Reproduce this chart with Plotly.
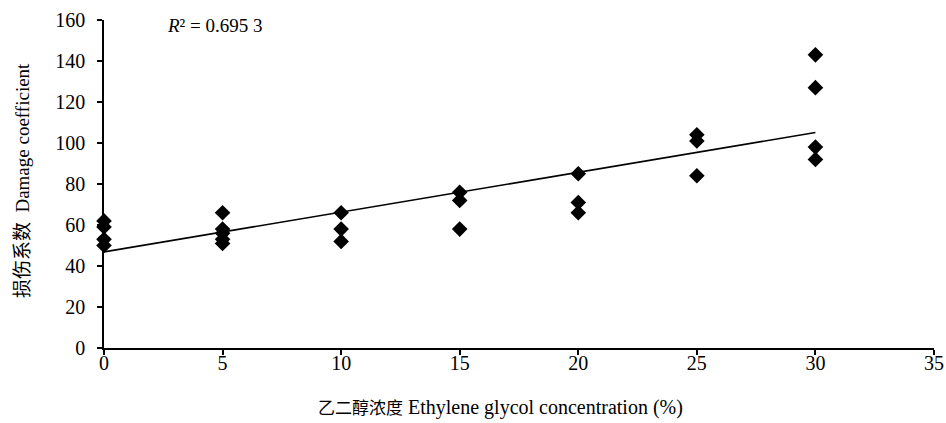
import numpy as np
import plotly.graph_objects as go

# Data
conc = [0, 0, 0, 0,
        5, 5, 5, 5, 5,
        10, 10, 10,
        15, 15, 15,
        20, 20, 20,
        25, 25, 25,
        30, 30, 30, 30]
damage = [62, 59, 53, 50,
          66, 58, 56, 53, 51,
          66, 58, 52,
          76, 72, 58,
          85, 71, 66,
          104, 101, 84,
          143, 127, 98, 92]

x_ticks = [0, 5, 10, 15, 20, 25, 30, 35]
y_ticks = [0, 20, 40, 60, 80, 100, 120, 140, 160]
r2_text = "<i>R</i>² = 0.695 3"
x_title = "<span style='font-size:17px'>乙二醇浓度</span> Ethylene glycol concentration (%)"
y_title = "损伤系数  Damage coefficient"

slope, intercept = np.polyfit(conc, damage, 1)
fit_x = [min(conc), max(conc)]
fit_y = [intercept + slope * v for v in fit_x]

FONT = "Liberation Serif, Noto Sans CJK SC, serif"

fig = go.Figure()
fig.add_trace(go.Scatter(x=fit_x, y=fit_y, mode="lines",
                         line=dict(color="black", width=1.6), showlegend=False,
                         cliponaxis=False))
fig.add_trace(go.Scatter(x=conc, y=damage, mode="markers",
                         marker=dict(symbol="diamond", size=12, color="black"),
                         showlegend=False, cliponaxis=False))

fig.add_annotation(x=0.0735, y=0.982, xref="paper", yref="paper", xanchor="left",
                   yanchor="middle", text=r2_text, showarrow=False,
                   font=dict(family=FONT, size=19, color="black"))
fig.add_annotation(x=0.478, y=-0.18, xref="paper", yref="paper", xanchor="center",
                   yanchor="middle", text=x_title, showarrow=False,
                   font=dict(family=FONT, size=20, color="black"))
fig.add_annotation(x=-0.0988, y=0.512, xref="paper", yref="paper", xanchor="center",
                   yanchor="middle", text=y_title, showarrow=False, textangle=-90,
                   font=dict(family=FONT, size=19, color="black"))

fig.update_layout(
    width=946, height=423,
    margin=dict(l=104, r=12, t=20, b=75, autoexpand=False),
    paper_bgcolor="white", plot_bgcolor="white",
    font=dict(family=FONT, color="black"),
    xaxis=dict(range=[0, 35], tickvals=x_ticks, showgrid=False, zeroline=False,
               showline=True, linecolor="black", linewidth=1.6,
               ticks="outside", ticklen=5, tickcolor="black", tickwidth=1.5,
               ticklabelstandoff=-9,
               tickfont=dict(family=FONT, size=20)),
    yaxis=dict(range=[0, 160], tickvals=y_ticks, showgrid=False, zeroline=False,
               showline=True, linecolor="black", linewidth=1.6,
               ticks="outside", ticklen=5, tickcolor="black", tickwidth=1.5,
               ticklabelstandoff=8,
               tickfont=dict(family=FONT, size=20)),
)

fig.write_html("out.html",
               config={"displayModeBar": False},
               post_script="document.body.style.margin='0';"
                           "document.body.style.overflow='hidden';")
